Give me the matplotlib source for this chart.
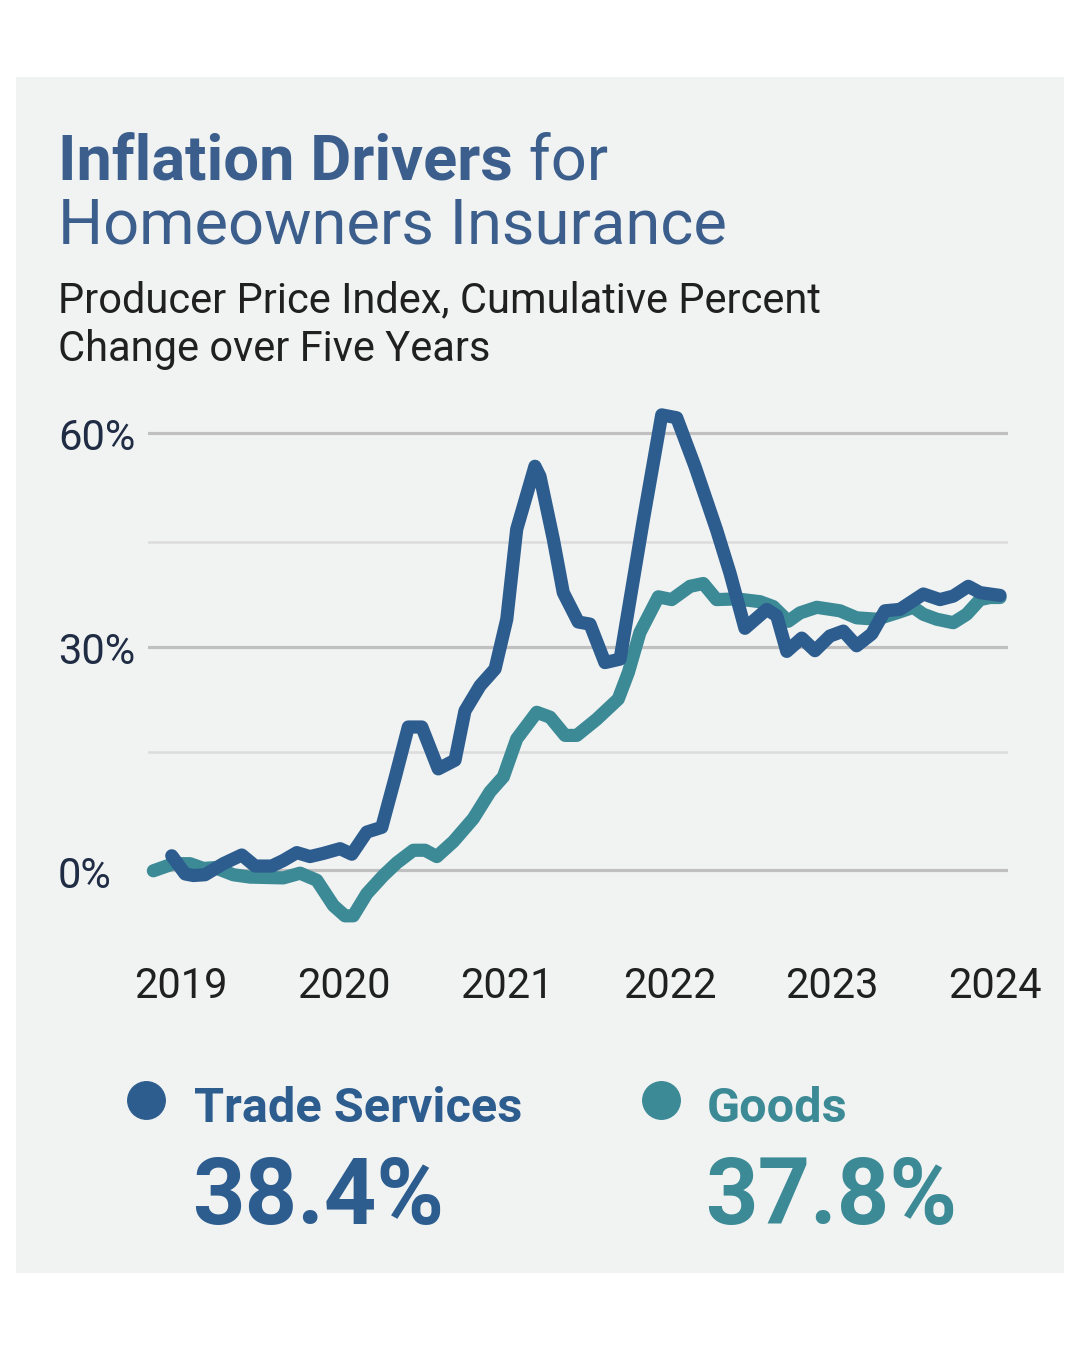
import matplotlib
matplotlib.use("Agg")
import numpy as np
import matplotlib.pyplot as plt
import matplotlib.transforms as mtransforms
from matplotlib.patches import Rectangle
from matplotlib.lines import Line2D

# ---------------- data ----------------
years = [2019, 2020, 2021, 2022, 2023, 2024]
year_labels = ["2019", "2020", "2021", "2022", "2023", "2024"]

y_major = [0, 30, 60]
y_major_labels = ["0%", "30%", "60%"]
y_minor = [15, 45]

trade_x = [2018.943, 2019.025, 2019.076, 2019.147, 2019.260, 2019.373, 2019.455,
           2019.557, 2019.628, 2019.711, 2019.792, 2019.874, 2019.977, 2020.049,
           2020.141, 2020.233, 2020.314, 2020.396, 2020.479, 2020.580, 2020.683,
           2020.744, 2020.837, 2020.929, 2021.001, 2021.062, 2021.174, 2021.205,
           2021.287, 2021.348, 2021.440, 2021.512, 2021.604, 2021.697, 2021.840,
           2021.953, 2022.045, 2022.157, 2022.290, 2022.372, 2022.464, 2022.598,
           2022.659, 2022.721, 2022.813, 2022.894, 2022.986, 2023.068, 2023.150,
           2023.243, 2023.324, 2023.416, 2023.560, 2023.662, 2023.744, 2023.836,
           2023.908, 2023.969, 2024.031]
trade_y = [1.8, -0.5, -0.7, -0.6, 0.8, 1.9, 0.5,
           0.5, 1.2, 2.2, 1.7, 2.1, 2.7, 2.0,
           4.8, 5.4, 11.6, 18.5, 18.5, 12.8, 13.9,
           20.8, 24.4, 26.8, 33.9, 46.7, 55.4, 54.0,
           45.3, 37.7, 33.5, 33.2, 27.7, 28.2, 48.0,
           62.5, 62.1, 55.4, 46.6, 40.5, 32.6, 35.3,
           34.4, 29.3, 31.2, 29.4, 31.5, 32.2, 30.1,
           31.8, 35.1, 35.3, 37.5, 36.7, 37.2, 38.6,
           37.7, 37.5, 37.3]

goods_x = [2018.830, 2018.953, 2019.055, 2019.137, 2019.209, 2019.321, 2019.424,
           2019.628, 2019.731, 2019.834, 2019.936, 2020.007, 2020.058, 2020.141,
           2020.243, 2020.325, 2020.427, 2020.499, 2020.571, 2020.673, 2020.795,
           2020.898, 2020.980, 2021.062, 2021.185, 2021.267, 2021.359, 2021.431,
           2021.553, 2021.686, 2021.748, 2021.819, 2021.932, 2022.014, 2022.127,
           2022.208, 2022.290, 2022.413, 2022.557, 2022.638, 2022.730, 2022.802,
           2022.905, 2023.048, 2023.150, 2023.273, 2023.396, 2023.498, 2023.560,
           2023.642, 2023.744, 2023.826, 2023.908, 2023.969, 2024.031]
goods_y = [-0.1, 0.8, 0.8, 0.2, 0.3, -0.6, -0.9,
           -1.0, -0.4, -1.3, -4.5, -5.8, -5.8, -3.0,
           -0.7, 0.9, 2.5, 2.5, 1.7, 3.6, 6.5,
           9.9, 11.8, 16.8, 20.6, 19.9, 17.3, 17.3,
           19.6, 22.5, 26.3, 32.0, 37.1, 36.7, 38.6,
           39.0, 36.7, 36.8, 36.4, 35.7, 33.6, 34.8,
           35.6, 35.1, 34.1, 33.9, 34.8, 35.6, 34.6,
           33.9, 33.4, 34.6, 36.7, 37.0, 37.0]

series_names = ["Trade Services", "Goods"]
series_totals = ["38.4%", "37.8%"]

# ---------------- styling ----------------
BLUE = "#2d5d8f"
TEAL = "#3c8a96"
TITLE_C = "#3b5e8c"
PANEL = "#f1f3f2"
TEXT_DARK = "#202020"
YLAB_C = "#1f2c44"

plt.rcParams["font.family"] = ["Roboto", "DejaVu Sans"]

W, H = 1080, 1350


def fx(px):
    return px / W


def fy(py):
    return 1 - py / H


# the reference's gridlines are not perfectly evenly spaced; a piecewise
# linear value scale reproduces their spacing
SCALE_V = np.array([-100.0, 0.0, 15.0, 30.0, 45.0, 60.0, 200.0])
SCALE_U = np.array([-790.0, 0.0, 118.5, 223.5, 328.5, 437.0, 1452.0])


def fwd(v):
    return np.interp(v, SCALE_V, SCALE_U)


def inv(u):
    return np.interp(u, SCALE_U, SCALE_V)


fig = plt.figure(figsize=(10.8, 13.5), dpi=100, facecolor="white")
fig.patches.append(Rectangle((fx(16), fy(1273)), (1064 - 16) / W, (1273 - 77) / H,
                             transform=fig.transFigure, facecolor=PANEL,
                             edgecolor="none", zorder=-10))

# ---------------- chart ----------------
ax = fig.add_axes([fx(148), fy(930), 860 / W, 530 / H])
ax.set_zorder(2)
ax.set_facecolor("none")
ax.set_yscale("function", functions=(fwd, inv))
ax.set_xlim(2018.797, 2024.080)
ax.set_ylim(inv(-60.0), inv(470.0))
ax.axis("off")

for v in y_major:
    ax.axhline(v, color="#c0c0c0", lw=2.3, zorder=1)
for v in y_minor:
    ax.axhline(v, color="#dcdcdc", lw=1.8, zorder=1)

ax.plot(goods_x, goods_y, color=TEAL, lw=9.5, solid_capstyle="round",
        solid_joinstyle="round", zorder=3, clip_on=False)
ax.plot(trade_x, trade_y, color=BLUE, lw=9.5, solid_capstyle="round",
        solid_joinstyle="round", zorder=4, clip_on=False)

ytrans = mtransforms.blended_transform_factory(fig.transFigure, ax.transData)
for v, lab in zip(y_major, y_major_labels):
    ax.text(fx(58), v - 0.8, lab, transform=ytrans, ha="left", va="center",
            fontsize=30, color=YLAB_C)

xtrans = mtransforms.blended_transform_factory(ax.transData, fig.transFigure)
for yr, lab in zip(years, year_labels):
    ax.text(yr, fy(986), lab, transform=xtrans, ha="center", va="center",
            fontsize=30, color=TEXT_DARK)

# ---------------- titles ----------------
renderer = fig.canvas.get_renderer()
t1 = fig.text(fx(58), fy(179), "Inflation Drivers", fontsize=45.5, fontweight="bold",
              color=TITLE_C, ha="left", va="baseline")
bb = t1.get_window_extent(renderer=renderer)
fig.text(bb.x1 / W, fy(179), " for", fontsize=45.5, color=TITLE_C,
         ha="left", va="baseline")
fig.text(fx(58), fy(243), "Homeowners Insurance", fontsize=45.5, color=TITLE_C,
         ha="left", va="baseline")

fig.text(fx(58), fy(312), "Producer Price Index, Cumulative Percent", fontsize=30,
         color=TEXT_DARK, ha="left", va="baseline")
fig.text(fx(58), fy(361), "Change over Five Years", fontsize=30,
         color=TEXT_DARK, ha="left", va="baseline")

# ---------------- legend / totals ----------------
leg_cols = [BLUE, TEAL]
dot_x = [146, 661]
txt_x = [194, 707]
for name, total, col, dx, tx in zip(series_names, series_totals, leg_cols, dot_x, txt_x):
    fig.add_artist(Line2D([fx(dx)], [fy(1100)], marker="o", markersize=27,
                          color=col, transform=fig.transFigure, linestyle="none"))
    fig.text(fx(tx), fy(1122), name, fontsize=35, fontweight="bold", color=col,
             ha="left", va="baseline")
    fig.text(fx(tx - 2), fy(1224), total, fontsize=66, fontweight="bold", color=col,
             ha="left", va="baseline")

fig.savefig("out.png", dpi=100, facecolor="white")
